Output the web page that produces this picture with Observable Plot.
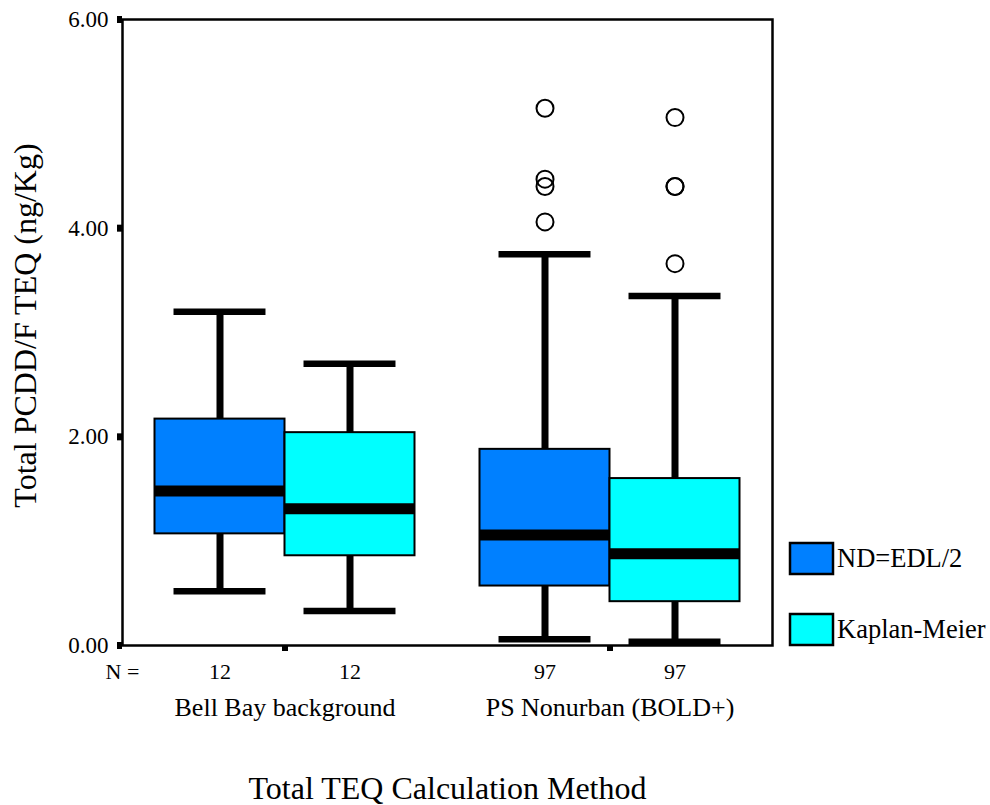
<!DOCTYPE html>
<html>
<head>
<meta charset="utf-8">
<script src="https://cdn.jsdelivr.net/npm/d3@7"></script>
<script src="https://cdn.jsdelivr.net/npm/@observablehq/plot@0.6"></script>
<style>
  html, body { margin: 0; padding: 0; background: white; }
  #wrap { position: relative; width: 990px; height: 805px; font-family: "Liberation Serif", serif; }
  #wrap > svg { position: absolute; left: 0; top: 0; }
  #wrap > svg text { font-family: "Liberation Serif", serif; }
  #legend { position: absolute; left: 790px; top: 543px; }
  #legend, #legend * { font-family: "Liberation Serif", serif !important; font-size: 26.5px !important; color: black !important; }
  #legend > div { margin: 0 !important; min-height: 0 !important; }
  #legend .lg-swatch { margin-bottom: 40px !important; padding: 0 !important; display: flex !important; align-items: center; line-height: 31px; }
  #legend .lg-swatch svg { margin-right: 4px !important; overflow: visible; }
  #legend .lg-swatch svg rect { stroke: black; stroke-width: 2.5px; }
</style>
</head>
<body>
<div id="wrap"><div id="legend"></div></div>
<script>
// ---- data ----
const groups = ["Bell Bay background", "PS Nonurban (BOLD+)"];
const methods = ["ND=EDL/2", "Kaplan-Meier"];
const methodColors = ["#0080ff", "#00ffff"];
const nCounts   = [[12, 12], [97, 97]];
const lowWhisker  = [[0.52, 0.33], [0.06, 0.035]];
const quartile1   = [[1.07, 0.86], [0.57, 0.42]];
const medians     = [[1.48, 1.31], [1.06, 0.88]];
const quartile3   = [[2.17, 2.04], [1.88, 1.60]];
const highWhisker = [[3.20, 2.70], [3.75, 3.35]];
const outliers    = [[[], []], [[5.15, 4.47, 4.40, 4.06], [5.06, 4.40, 4.40, 3.66]]];
const yTicks = [0, 2, 4, 6];
const xTitle = "Total TEQ Calculation Method";
const yTitle = "Total PCDD/F TEQ (ng/Kg)";

// ---- build rows ----
const serif = "Liberation Serif, serif";
const boxW = 0.4, capHalf = 0.1415;
const boxes = groups.flatMap((g, gi) => methods.map((m, si) => {
  const x1 = gi - boxW + si * boxW;
  return {group: g, method: m, x1, x2: x1 + boxW, cx: x1 + boxW / 2,
    n: nCounts[gi][si], lo: lowWhisker[gi][si], q1: quartile1[gi][si],
    med: medians[gi][si], q3: quartile3[gi][si], hi: highWhisker[gi][si]};
}));
const outRows = boxes.flatMap((b, i) => outliers[Math.floor(i / 2)][i % 2].map(v => ({cx: b.cx, v})));

const plot = Plot.plot({
  width: 990, height: 805,
  marginLeft: 122, marginRight: 218, marginTop: 19, marginBottom: 160,
  x: {domain: [-0.5, 1.5], axis: null},
  y: {domain: [0, 6], axis: null},
  color: {domain: methods, range: methodColors},
  style: {fontFamily: serif, color: "black", background: "white", overflow: "visible"},
  marks: [
    Plot.ruleX(boxes, {x: "cx", y1: "lo", y2: "hi", stroke: "black", strokeWidth: 7}),
    Plot.rect(boxes, {x1: "x1", x2: "x2", y1: "q1", y2: "q3", fill: "method", stroke: "black", strokeWidth: 2}),
    Plot.ruleY(boxes, {y: "med", x1: "x1", x2: "x2", stroke: "black", strokeWidth: 11}),
    Plot.ruleY(boxes, {y: "lo", x1: d => d.cx - capHalf, x2: d => d.cx + capHalf, stroke: "black", strokeWidth: 6.5}),
    Plot.ruleY(boxes, {y: "hi", x1: d => d.cx - capHalf, x2: d => d.cx + capHalf, stroke: "black", strokeWidth: 6.5}),
    Plot.dot(outRows, {x: "cx", y: "v", r: 8.5, stroke: "black", strokeWidth: 2, fill: "none"}),
    Plot.frame({stroke: "black", strokeWidth: 2.5}),
    Plot.axisY({ticks: yTicks, tickFormat: d3.format(".2f"), tickSize: 5, tickPadding: 9, strokeWidth: 7, fontSize: 23, fontFamily: serif, fontVariant: "normal", label: null}),
    Plot.axisX({ticks: groups.map((g, i) => i), tickFormat: i => groups[i], tickSize: 6, tickPadding: 46, strokeWidth: 6, fontSize: 26, fontFamily: serif, fontVariant: "normal", label: null}),
    Plot.text(["N ="], {frameAnchor: "bottom-left", textAnchor: "middle", dy: 33, lineAnchor: "bottom", fontSize: 22, fontFamily: serif}),
    Plot.text(boxes, {x: "cx", text: "n", frameAnchor: "bottom", dy: 33, lineAnchor: "bottom", fontSize: 22, fontFamily: serif}),
    Plot.text([xTitle], {frameAnchor: "bottom", dy: 153, lineAnchor: "bottom", fontSize: 32, fontFamily: serif}),
    Plot.text([yTitle], {frameAnchor: "left", textAnchor: "middle", rotate: -90, dx: -97, dy: -7, fontSize: 32, fontFamily: serif})
  ]
});
document.getElementById("wrap").prepend(plot);

const legend = Plot.legend({
  color: {domain: methods, range: methodColors},
  legend: "swatches", columns: 1, swatchWidth: 43, swatchHeight: 31, className: "lg"
});
document.getElementById("legend").appendChild(legend);
</script>
</body>
</html>
